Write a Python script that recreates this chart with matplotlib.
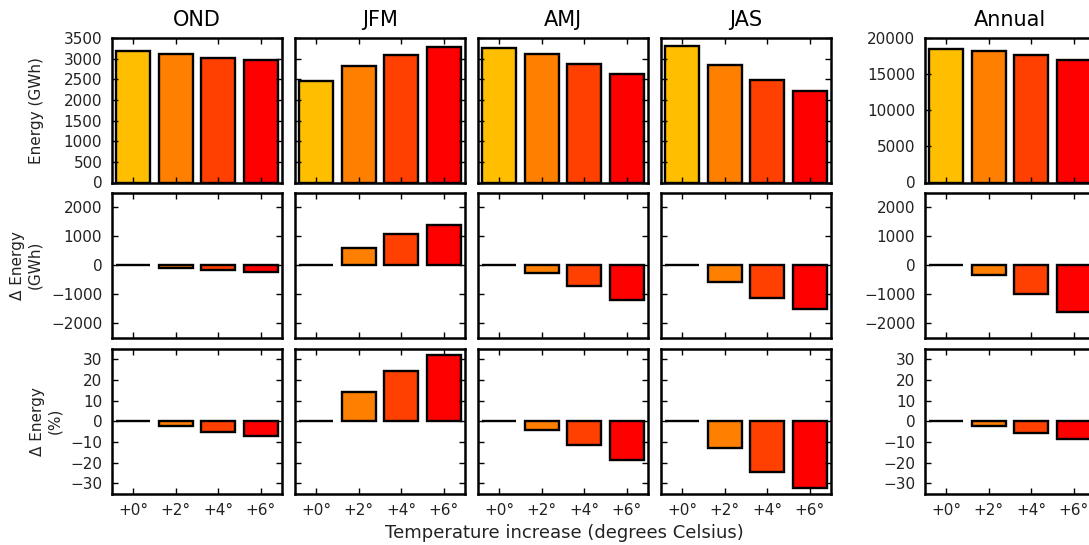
import matplotlib
matplotlib.use('Agg')
import matplotlib.pyplot as plt

plt.rcParams['font.family'] = ['DejaVu Sans']

# data
periods = ['OND', 'JFM', 'AMJ', 'JAS', 'Annual']
warming = ['+0°', '+2°', '+4°', '+6°']
bar_colors = ['#FFBF00', '#FF8000', '#FF4000', '#FF0000']

energy_ond = [3190, 3110, 3020, 2965]
energy_jfm = [2470, 2830, 3080, 3275]
energy_amj = [3255, 3120, 2870, 2625]
energy_jas = [3300, 2845, 2480, 2205]
energy_annual = [18500, 18200, 17600, 16900]

delta_ond = [0, -80, -170, -240]
delta_jfm = [0, 600, 1070, 1385]
delta_amj = [0, -260, -720, -1215]
delta_jas = [0, -590, -1150, -1520]
delta_annual = [0, -350, -1010, -1610]

pct_ond = [0, -2.5, -5.0, -7.3]
pct_jfm = [0, 14.2, 24.5, 32.2]
pct_amj = [0, -4.1, -11.5, -19.0]
pct_jas = [0, -13.2, -24.8, -32.3]
pct_annual = [0, -2.1, -5.5, -8.7]

rows = [
    [energy_ond, energy_jfm, energy_amj, energy_jas, energy_annual],
    [delta_ond, delta_jfm, delta_amj, delta_jas, delta_annual],
    [pct_ond, pct_jfm, pct_amj, pct_jas, pct_annual],
]
ylabels = ['Energy (GWh)', 'Δ Energy\n(GWh)', 'Δ Energy\n(%)']
label_x = [-0.40, -0.41, -0.294]

W, H = 1089, 545
fig = plt.figure(figsize=(W / 100, H / 100), dpi=100)

col_left = [112, 295, 478, 661, 925]
row_top = [38, 193, 349]
aw, ah = 170, 144.5

for r in range(3):
    for c in range(5):
        ax = fig.add_axes([col_left[c] / W, 1 - (row_top[r] + ah) / H, aw / W, ah / H])
        vals = rows[r][c]
        ax.bar(range(4), vals, width=0.8, color=bar_colors, edgecolor='k', linewidth=1.7)
        ax.set_xlim(-0.5, 3.5)
        ax.set_xticks(range(4))
        for s in ax.spines.values():
            s.set_linewidth(1.8)
        ax.tick_params(direction='in', top=True, right=True, length=4, width=1,
                       labelsize=11, pad=7, colors='k', labelcolor='#222222')

        if r == 0:
            if c == 4:
                ax.set_ylim(0, 20000)
                ax.set_yticks(range(0, 20001, 5000))
            else:
                ax.set_ylim(0, 3500)
                ax.set_yticks(range(0, 3501, 500))
            ax.set_title(periods[c], fontsize=15, pad=9)
        elif r == 1:
            ax.set_ylim(-2500, 2500)
            ax.set_yticks([-2000, -1000, 0, 1000, 2000])
        else:
            ax.set_ylim(-35, 35)
            ax.set_yticks([-30, -20, -10, 0, 10, 20, 30])

        if r == 2:
            ax.set_xticklabels(warming)
        else:
            ax.set_xticklabels([])
        if c not in (0, 4):
            ax.set_yticklabels([])
        if c == 0:
            ax.set_ylabel(ylabels[r], fontsize=11, color='#222222')
            ax.yaxis.set_label_coords(label_x[r], 0.5)

fig.text(564 / W, 1 - 533 / H, 'Temperature increase (degrees Celsius)',
         ha='center', va='center', fontsize=13, color='#222222')

fig.savefig('out.png', dpi=100)
